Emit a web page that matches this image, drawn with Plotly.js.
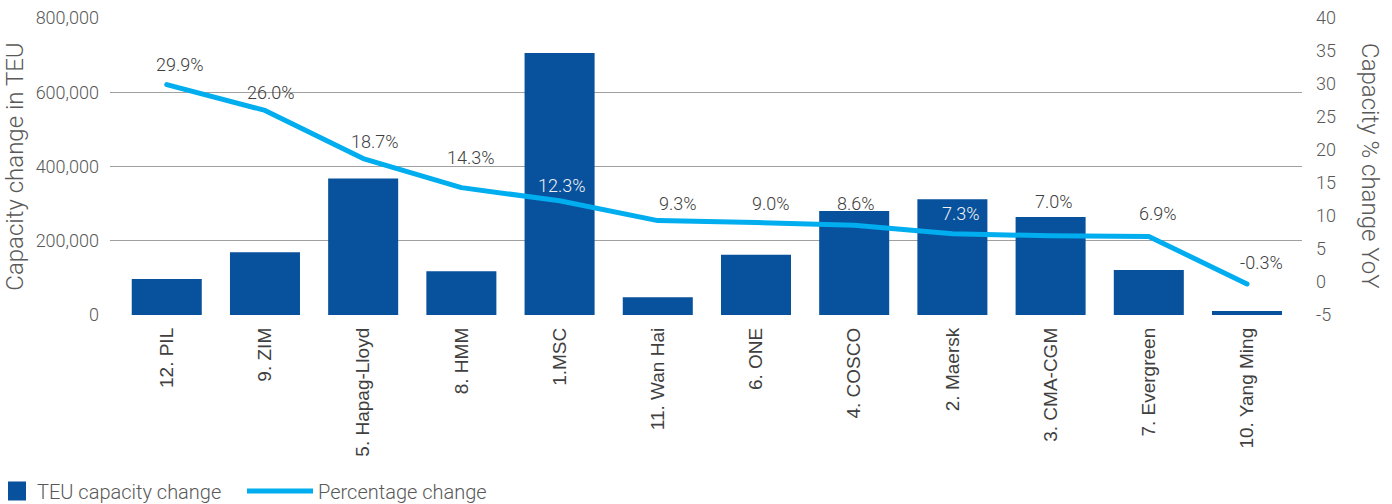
<!DOCTYPE html>
<html><head><meta charset="utf-8">
<script src="https://cdn.plot.ly/plotly-3.0.1.min.js"></script>
<style>
html,body{margin:0;padding:0;background:#fff;}
#chart{width:1392px;height:504px;}
.scatterlayer .js-line{stroke-linecap:round !important;stroke-linejoin:round !important;}
</style></head><body><div id="chart"></div>
<script>
// ---- data ----
const carriers = ["12. PIL","9. ZIM","5. Hapag-Lloyd","8. HMM","1.MSC","11. Wan Hai","6. ONE","4. COSCO","2. Maersk","3. CMA-CGM","7. Evergreen","10. Yang Ming"];
const teuChange = [97000,169000,368000,118000,706000,48000,162000,280000,312000,264000,121000,11000];
const pctChange = [29.9,26.0,18.7,14.3,12.3,9.3,9.0,8.6,7.3,7.0,6.9,-0.3];
const leftTickVals = [0,200000,400000,600000,800000];
const rightTickVals = [-5,0,5,10,15,20,25,30,35,40];
const rightTickText = ["-5","0","5","10","15","20","25","30","35","40"];

// ---- styles ----
const barColor = '#07519d';
const lineColor = '#00adee';
const lightLabelCarriers = ["1.MSC","2. Maersk"];
// data-label nudges (px), like manually placed labels in the original
const labelDx = [13, 6, 12, 10, 2, 20, 15, 2, 9, 3, 9, 14];
const labelDy = [20, 18, 17, 30, 15, 17, 19, 22, 20, 34, 23, 21];
const plotLeft = 110, plotWidth = 1192;
const px2paper = p => (p - plotLeft) / plotWidth;

const traces = [
  {type:'bar', name:'TEU capacity change', x:carriers, y:teuChange,
   marker:{color:barColor}, yaxis:'y', hoverinfo:'skip', legend:'legend'},
  {type:'scatter', mode:'lines', name:'Percentage change', x:carriers, y:pctChange,
   yaxis:'y2', line:{color:lineColor, width:5}, hoverinfo:'skip', legend:'legend2'}
];

const annotations = carriers.map((c,i)=>({
  x:c, y:pctChange[i], xref:'x', yref:'y2',
  text: pctChange[i].toFixed(1) + '%',
  showarrow:false, xshift:labelDx[i], yshift:labelDy[i],
  font:{family:'Roboto', weight:300, size:18,
        color: lightLabelCarriers.includes(c) ? '#f2f2f2' : '#404040'}
}));

const legendFont = {family:'Roboto', weight:300, size:20, color:'#595959'};
const layout = {
  width:1392, height:504,
  margin:{l:110, r:90, t:18, b:189, autoexpand:false},
  paper_bgcolor:'#ffffff', plot_bgcolor:'#ffffff',
  font:{family:'Roboto', weight:300, color:'#595959', size:18},
  bargap:0.287,
  showlegend:true,
  xaxis:{type:'category', range:[-0.578, 11.56], tickangle:-90, automargin:false,
    tickfont:{family:'Arial, "Liberation Sans", sans-serif', weight:400, size:19, color:'#404040'},
    showgrid:false, zeroline:false, showline:false, ticks:'', ticklabelstandoff:8},
  yaxis:{range:[0,800000], tickvals:leftTickVals, tickformat:',d', automargin:false,
    gridcolor:'#a0a0a0', gridwidth:1, zeroline:false, showline:false, ticks:'',
    ticklabelstandoff:10, tickfont:{size:18},
    title:{text:'Capacity change in TEU', font:{size:24, color:'#595959'}, standoff:5}},
  yaxis2:{overlaying:'y', side:'right', range:[-5,40], tickvals:rightTickVals, ticktext:rightTickText,
    automargin:false, showgrid:false, zeroline:false, showline:false, ticks:'', ticklabelstandoff:13,
    tickfont:{size:18},
    title:{text:'Capacity % change YoY', font:{size:24, color:'#595959'}, standoff:26}},
  legend:{orientation:'h', x:px2paper(-3), xanchor:'left', y:-0.5926, yanchor:'middle',
    font:legendFont, itemwidth:30, bgcolor:'rgba(0,0,0,0)'},
  legend2:{orientation:'h', x:px2paper(242), xanchor:'left', y:-0.5926, yanchor:'middle',
    font:legendFont, itemwidth:66, bgcolor:'rgba(0,0,0,0)'},
  annotations: annotations
};

function finish(gd){
  // right axis title reads top-to-bottom in the reference
  const t = gd.querySelector('.g-y2title text');
  if (t && !t.dataset.flipped) {
    const x = parseFloat(t.getAttribute('x')), y = parseFloat(t.getAttribute('y'));
    const b = t.getBBox();
    const bcx = b.x + b.width/2, bcy = b.y + b.height/2;
    const cx = x + (bcy - y), cy = y - (bcx - x);
    t.setAttribute('transform', 'rotate(180,'+cx+','+cy+') rotate(-90,'+x+','+y+')');
    t.dataset.flipped = '1';
  }
  // larger square legend key, as in the reference
  gd.querySelectorAll('.legendpoints path').forEach(p => {
    const d = (p.getAttribute('d') || '').replace(/\s/g,'');
    if (/^M6,6H-6V-6H6Z$/.test(d) || p.classList.contains('legendbar')) {
      p.setAttribute('d','M9,9.5H-9V-9.5H9Z');
    }
  });
}

Plotly.newPlot('chart', traces, layout, {displayModeBar:false, staticPlot:true}).then(function(gd){
  finish(gd);
  gd.on('plotly_afterplot', () => finish(gd));
  setTimeout(() => finish(gd), 0);
  setTimeout(() => finish(gd), 200);
});
</script></body></html>
